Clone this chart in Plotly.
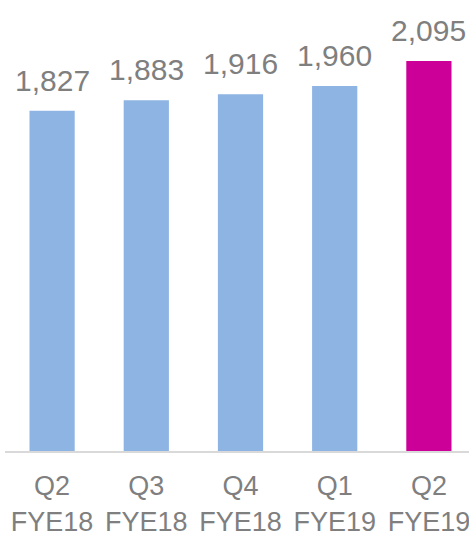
import plotly.graph_objects as go

categories = ["Q2<br>FYE18", "Q3<br>FYE18", "Q4<br>FYE18", "Q1<br>FYE19", "Q2<br>FYE19"]
values = [1827, 1883, 1916, 1960, 2095]
labels = ["1,827", "1,883", "1,916", "1,960", "2,095"]
colors = ["#8EB4E3", "#8EB4E3", "#8EB4E3", "#8EB4E3", "#CC0099"]

FONT = "Liberation Sans Narrow, Arial Narrow, Liberation Sans, Arial, sans-serif"
xs = list(range(len(categories)))

fig = go.Figure(go.Bar(
    x=xs,
    y=values,
    marker=dict(color=colors, line=dict(width=0)),
    width=0.48,
    hoverinfo="skip",
))

for x, v, t in zip(xs, values, labels):
    fig.add_annotation(x=x, y=v, text=t, showarrow=False, yanchor="bottom",
                       yshift=12, font=dict(family=FONT, size=30, color="#7F7F7F"))

fig.update_layout(
    width=476, height=539,
    margin=dict(l=5, r=0, t=0, b=88),
    paper_bgcolor="white", plot_bgcolor="white",
    showlegend=False,
    xaxis=dict(
        tickmode="array", tickvals=xs, ticktext=categories,
        range=[-0.5, 4.5], tickangle=0, automargin=False,
        showgrid=False, zeroline=False,
        showline=True, linecolor="#D9D9D9", linewidth=2,
        ticks="", ticklabelstandoff=10,
        tickfont=dict(family=FONT, size=27, color="#7F7F7F"),
    ),
    yaxis=dict(range=[0, 2422], visible=False, showgrid=False, zeroline=False, automargin=False),
)

fig.write_html("out.html", config={"displayModeBar": False},
               post_script="document.body.style.margin='0';document.body.style.overflow='hidden';")
